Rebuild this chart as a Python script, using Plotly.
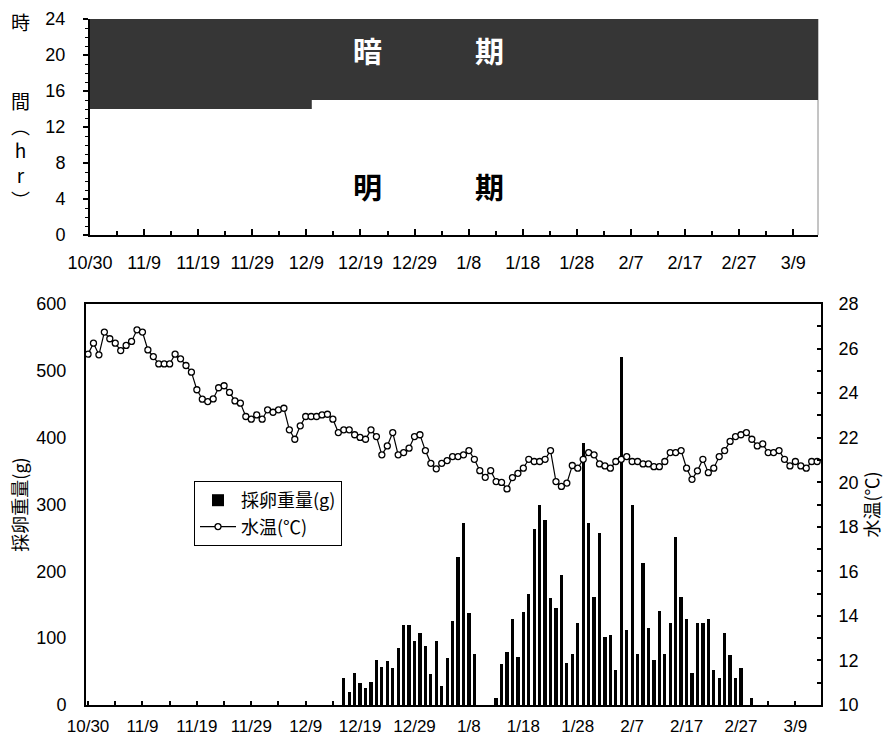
import pandas as pd
import plotly.graph_objects as go

# ---- photoperiod schedule (top panel) ----
phase_start = ["2006-10-30", "2006-12-10"]   # date each lighting regime began
light_hours = [14, 15]                         # hours of light per day
schedule_end = "2007-03-15"

# ---- daily water temperature (deg C), from 10/30 ----
temp_start = "2006-10-30"
water_temp = [
    25.75, 26.24, 25.72, 26.74, 26.44, 26.24, 25.91, 26.14, 26.32, 26.84,
    26.74, 25.94, 25.64, 25.31, 25.31, 25.31, 25.75, 25.54, 25.24, 24.94,
    24.15, 23.73, 23.62, 23.74, 24.24, 24.33, 24.03, 23.65, 23.55, 22.95,
    22.83, 23.02, 22.83, 23.25, 23.14, 23.25, 23.32, 22.35, 21.93, 22.53,
    22.95, 22.95, 22.95, 23.02, 23.05, 22.83, 22.23, 22.35, 22.35, 22.13,
    22.01, 21.93, 22.35, 22.05, 21.23, 21.63, 22.23, 21.23, 21.33, 21.53,
    22.05, 22.13, 21.42, 20.85, 20.60, 20.85, 20.97, 21.15, 21.15, 21.23,
    21.42, 21.03, 20.52, 20.22, 20.52, 20.03, 19.99, 19.70, 20.21, 20.40,
    20.63, 21.03, 20.93, 20.93, 21.03, 21.42, 20.03, 19.81, 19.96, 20.75,
    20.63, 21.03, 21.33, 21.23, 20.82, 20.73, 20.63, 20.93, 21.03, 21.15,
    20.93, 20.93, 20.82, 20.82, 20.70, 20.70, 20.93, 21.33, 21.33, 21.42,
    20.63, 20.13, 20.51, 21.03, 20.43, 20.63, 21.15, 21.42, 21.83, 22.05,
    22.13, 22.23, 21.93, 21.63, 21.72, 21.33, 21.33, 21.42, 21.03, 20.73,
    20.93, 20.73, 20.63, 20.93, 20.93,
]

# ---- daily collected egg weight (g), from 12/16 ----
egg_start = "2006-12-16"
egg_weight = [
    40, 20, 48, 33, 26, 34, 68, 57, 66, 56,
    86, 120, 120, 96, 108, 89, 47, 96, 29, 71,
    126, 221, 273, 138, 77, 0, 0, 0, 11, 62,
    80, 129, 72, 139, 166, 263, 300, 277, 160, 145,
    195, 63, 76, 122, 392, 273, 162, 258, 102, 105,
    53, 520, 112, 300, 77, 213, 115, 67, 140, 76,
    123, 252, 161, 128, 48, 122, 122, 128, 53, 41,
    107, 75, 41, 56, 0, 10,
]

tick_dates = pd.date_range("2006-10-30", "2007-03-09", freq="10D")
tick_text = [f"{d.month}/{d.day}" for d in tick_dates]
minor_dates = pd.date_range("2006-10-30", "2007-03-14", freq="5D")

temp_dates = pd.date_range(temp_start, periods=len(water_temp), freq="D")
egg_dates = pd.date_range(egg_start, periods=len(egg_weight), freq="D")

FONT = "Noto Sans CJK JP, Noto Sans, sans-serif"
NUM_FONT = "Liberation Sans, Arial, sans-serif"
W, H = 884, 737
DAY_MS = 86400000


def px(x):
    return x / W


def py(y):
    return 1 - y / H


fig = go.Figure()

# dark period: band from end of light hours up to 24 h
step_x = phase_start + [schedule_end]
step_y = light_hours + [light_hours[-1]]
fig.add_trace(go.Scatter(
    x=step_x, y=[24] * len(step_x), mode="lines", line=dict(width=0, color="#363636"),
    xaxis="x", yaxis="y", showlegend=False, hoverinfo="skip",
))
fig.add_trace(go.Scatter(
    x=step_x, y=step_y, mode="lines", line=dict(width=0, shape="hv", color="#363636"),
    fill="tonexty", fillcolor="#363636",
    xaxis="x", yaxis="y", showlegend=False, hoverinfo="skip",
))

# egg weight bars
fig.add_trace(go.Bar(
    x=egg_dates, y=egg_weight, width=0.6 * DAY_MS,
    marker=dict(color="black", line=dict(width=0)),
    name="採卵重量(g)", xaxis="x2", yaxis="y2",
))

# water temperature line
fig.add_trace(go.Scatter(
    x=temp_dates, y=water_temp, mode="lines+markers",
    line=dict(color="black", width=1.2),
    marker=dict(symbol="circle", size=6, color="white", line=dict(color="black", width=1.3)),
    name="水温(℃)", xaxis="x2", yaxis="y3",
))

tickfont = dict(family=NUM_FONT, size=18, color="black")
titlefont = dict(family=FONT, size=18, color="black")

fig.update_layout(
    width=W, height=H, autosize=False,
    margin=dict(l=0, r=0, t=0, b=0),
    paper_bgcolor="white", plot_bgcolor="white",
    font=dict(family=FONT, color="black"),
    bargap=0,
    xaxis=dict(
        domain=[px(90), px(818)], anchor="y", automargin=False,
        type="date", range=["2006-10-30 00:00", "2007-03-13 14:00"],
        tickmode="array", tickvals=tick_dates, ticktext=tick_text,
        ticks="inside", ticklen=6, tickwidth=1.5, tickcolor="black",
        minor=dict(tickmode="array", tickvals=minor_dates, ticks="inside",
                   ticklen=4, tickwidth=1.5, tickcolor="black"),
        showline=True, linecolor="black", linewidth=2,
        showgrid=False, zeroline=False, tickfont=tickfont,
        ticklabelstandoff=10,
    ),
    yaxis=dict(
        domain=[py(235), py(19)], anchor="x", automargin=False,
        range=[0, 24], tickmode="array", tickvals=list(range(0, 25, 4)),
        ticks="outside", ticklen=5, tickwidth=1.5, tickcolor="black",
        minor=dict(tickmode="array", tickvals=list(range(0, 25)), ticks="outside",
                   ticklen=3, tickwidth=1, tickcolor="black"),
        showline=True, linecolor="black", linewidth=2,
        showgrid=False, zeroline=False, tickfont=tickfont,
        ticklabelstandoff=14,
    ),
    xaxis2=dict(
        domain=[px(86), px(821)], anchor="y2", automargin=False,
        type="date", range=["2006-10-29 15:00", "2007-03-13 17:00"],
        tickmode="array", tickvals=tick_dates, ticktext=tick_text,
        ticks="inside", ticklen=4, tickwidth=1.5, tickcolor="black",
        minor=dict(tickmode="array", tickvals=minor_dates, ticks="inside",
                   ticklen=4, tickwidth=1.5, tickcolor="black"),
        showline=True, linecolor="black", linewidth=2, mirror=True,
        showgrid=False, zeroline=False,
        tickfont=dict(family=NUM_FONT, size=17, color="black"),
        ticklabelstandoff=5,
    ),
    yaxis2=dict(
        domain=[py(705), py(304)], anchor="x2", automargin=False,
        range=[0, 600], tickmode="array", tickvals=list(range(0, 601, 100)),
        ticks="", showline=True, linecolor="black", linewidth=2, mirror=True,
        showgrid=False, zeroline=False, tickfont=tickfont,
        ticklabelstandoff=14,
        title=dict(text="採卵重量(g)", font=titlefont, standoff=4),
    ),
    yaxis3=dict(
        overlaying="y2", side="right", anchor="x2", automargin=False,
        range=[10, 28], tickmode="array", tickvals=list(range(10, 29, 2)),
        ticks="inside", ticklen=4, tickwidth=1.5, tickcolor="black",
        minor=dict(tickmode="array", tickvals=list(range(10, 29)), ticks="inside",
                   ticklen=4, tickwidth=1.5, tickcolor="black"),
        showline=True, linecolor="black", linewidth=2,
        showgrid=False, zeroline=False, tickfont=tickfont,
        ticklabelstandoff=12,
        title=dict(text="水温(℃)", font=titlefont, standoff=12),
    ),
    legend=dict(
        x=px(194), y=py(481), xanchor="left", yanchor="top",
        bgcolor="white", bordercolor="black", borderwidth=1,
        font=dict(family=FONT, size=18, color="black"),
        itemwidth=36, tracegroupgap=0, traceorder="normal",
    ),
)

# thin right edge of the photoperiod panel
fig.add_shape(type="line", xref="x domain", yref="y domain", x0=1, x1=1, y0=0, y1=1,
              line=dict(color="#8a8a8a", width=1), layer="below")

annotations = [
    # vertical axis title of the photoperiod panel
    dict(text="時", xref="paper", yref="paper", x=px(20), y=py(22),
         xanchor="center", yanchor="middle", showarrow=False,
         font=dict(family=FONT, size=19, color="black")),
    dict(text="間<br>︵<br>h<br>r<br>︶", xref="paper", yref="paper", x=px(20), y=py(150),
         xanchor="center", yanchor="middle", showarrow=False,
         font=dict(family=FONT, size=19, color="black")),
]
# period labels
for ch, xx, yy, col in [("暗", 367, 50, "white"), ("期", 489, 50, "white"),
                        ("明", 367, 186, "black"), ("期", 489, 186, "black")]:
    annotations.append(dict(text=f"<b>{ch}</b>", xref="paper", yref="paper",
                            x=px(xx), y=py(yy), xanchor="center", yanchor="middle",
                            showarrow=False, font=dict(family=FONT, size=29, color=col)))
fig.update_layout(annotations=annotations)

fig.write_html("out.html")
